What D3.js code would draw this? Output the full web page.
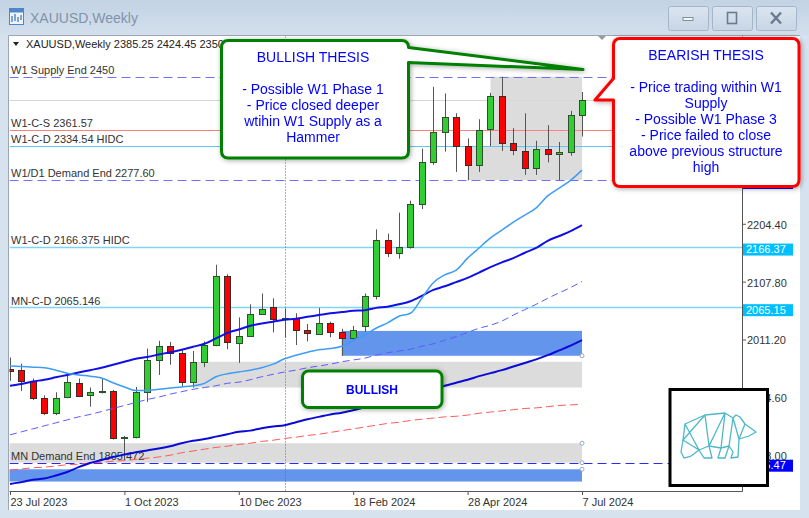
<!DOCTYPE html>
<html>
<head>
<meta charset="utf-8">
<script src="https://cdn.jsdelivr.net/npm/d3@7/dist/d3.min.js"></script>
<style>
html,body{margin:0;padding:0;background:#d6e2ee;overflow:hidden}
svg{display:block}
text{font-family:"Liberation Sans",Arial,sans-serif}
</style>
</head>
<body>
<svg id="chart" width="809" height="518"></svg>
<script>
// ---------------- DATA ----------------
const weeks = ["2023-07-23","2023-07-30","2023-08-06","2023-08-13","2023-08-20","2023-08-27","2023-09-03","2023-09-10","2023-09-17","2023-09-24",
"2023-10-01","2023-10-08","2023-10-15","2023-10-22","2023-10-29","2023-11-05","2023-11-12","2023-11-19","2023-11-26","2023-12-03",
"2023-12-10","2023-12-17","2023-12-24","2023-12-31","2024-01-07","2024-01-14","2024-01-21","2024-01-28","2024-02-04","2024-02-11",
"2024-02-18","2024-02-25","2024-03-03","2024-03-10","2024-03-17","2024-03-24","2024-03-31","2024-04-07","2024-04-14","2024-04-21",
"2024-04-28","2024-05-05","2024-05-12","2024-05-19","2024-05-26","2024-06-02","2024-06-09","2024-06-16","2024-06-23","2024-06-30","2024-07-07"];
const openP  = [1962,1960,1942,1914,1889,1915,1939,1918,1924,1925, 1847,1848,1924,1977,2001,1988,1940,1974,2002,2118, 2006,2017,2054,2066,2046,2047,2027,2021,2038,2024, 2013,2034,2084,2177,2155,2166,2237,2308,2357,2383, 2334,2303,2362,2418,2340,2326,2297,2329,2321,2325,2385.25];
const highP  = [1981,1971,1946,1918,1923,1952,1946,1931,1946,1927, 1850,1932,1996,2009,2007,1994,1992,2008,2136,2120, 2048,2070,2088,2080,2063,2055,2037,2064,2041,2029, 2034,2088,2195,2188,2223,2243,2330,2433,2422,2389, 2347,2379,2423,2450,2364,2389,2343,2369,2341,2393,2424.45];
const lowP   = [1942,1925,1910,1885,1885,1913,1915,1899,1921,1844, 1810,1846,1907,1952,1969,1932,1931,1965,2000,1995, 1972,2016,2053,2023,2014,2002,2008,2019,2015,1984, 2010,2024,2078,2149,2146,2163,2229,2303,2325,2291, 2277,2291,2334,2326,2319,2286,2286,2307,2277,2318,2350];
const closeP = [1959,1942,1913,1889,1914,1940,1917,1923,1925,1846, 1848,1923,1977,2000,1988,1940,1974,2002,2117,2007, 2017,2053,2062,2045,2047,2027,2022,2038,2024,2013, 2027,2084,2177,2155,2166,2237,2308,2357,2383,2334, 2303,2361,2418,2340,2328,2297,2329,2321,2325,2386,2411];

// moving averages (one value per weekly bar)
const maFast = [1967,1966,1965,1964,1960,1955,1952,1950,1947,1939, 1932,1926,1926,1928,1930,1932,1934,1938,1949,1954, 1957,1960,1964,1970,1979,1985,1990,1994,1996,2000, 2010,2019,2030,2039,2050,2055,2080,2106,2119,2127, 2147,2164,2181,2194,2207,2219,2231,2251,2264,2277,2294];
const maMid  = [1934,1937,1941,1944,1948,1952,1956,1960,1964,1969, 1974,1979,1982,1986,1990,1994,1999,2004,2013,2022, 2028,2034,2038,2041,2044,2046,2049,2052,2055,2057, 2059,2060,2064,2066,2070,2075,2084,2094,2100,2107, 2114,2123,2132,2140,2147,2156,2164,2176,2184,2192,2202];
const maMidDash = [1852,1857,1862,1867,1872,1877,1882,1886,1891,1896, 1901,1906,1911,1915,1920,1924,1928,1931,1934,1938, 1940,1944,1949,1953,1957,1960,1964,1967,1970,1974, 1977,1980,1985,1989,1992,1995,2000,2004,2010,2016, 2023,2030,2035,2042,2052,2061,2070,2080,2089,2098,2108];
const maSlow = [1770,1773,1777,1779,1784,1790,1798,1805,1810,1815, 1819,1823,1826,1829,1833,1838,1842,1845,1849,1853, 1857,1859,1863,1866,1868,1873,1878,1882,1886,1889, 1893,1898,1903,1907,1912,1917,1922,1928,1934,1939, 1944,1950,1955,1960,1966,1972,1978,1985,1993,2001,2010];
const maRedDash = [1793,1795,1797,1798,1800,1802,1803,1805,1806,1808, 1809,1811,1813,1815,1818,1822,1825,1828,1831,1833, 1836,1838,1841,1843,1846,1848,1851,1853,1856,1859, 1862,1865,1868,1871,1873,1876,1878,1880,1882,1883, 1885,1888,1890,1892,1894,1896,1897,1899,1901,1902,1903];

// horizontal levels
const levelNames  = ["W1 Supply End 2450","W1-C-S 2361.57","W1-C-D 2334.54 HIDC","W1/D1 Demand End 2277.60","W1-C-D 2166.375 HIDC","MN-C-D 2065.146","MN Demand End 1805.472"];
const levelValues = [2450, 2361.57, 2334.54, 2277.60, 2166.375, 2065.146, 1805.472];
const levelTags   = ["","","","2277.60","2166.37","2065.15","1805.47"];
const bidPrice = 2411;
const separatorWeek = "2024-01-07";

// zones (rectangles)
const zoneStart  = ["2024-05-12","2024-04-28","2023-11-12","2024-02-11","2023-01-01","2023-01-01"];
const zoneEnd    = ["2024-07-07","2024-07-07","2024-07-07","2024-07-07","2024-07-07","2024-07-07"];
const zoneTop    = [2450, 2334.54, 1974, 2025.5, 1838, 1794.5];
const zoneBottom = [2334.54, 2277.6, 1931, 1984, 1805.5, 1774];
const zoneKind   = ["gray","gray","gray","blue","gray","blue"];

// axes (ticks above 2204.40 are hidden behind the bearish callout)
const priceTicks = [1818.00,1914.60,2011.20,2107.80,2204.40];
const timeTicks = ["2023-07-23","2023-10-01","2023-12-10","2024-02-18","2024-04-28","2024-07-07"];
const timeTickLabels = ["23 Jul 2023","1 Oct 2023","10 Dec 2023","18 Feb 2024","28 Apr 2024","7 Jul 2024"];

// texts
const windowTitle = "XAUUSD,Weekly";
const headerText = "XAUUSD,Weekly  2385.25 2424.45 2350.10 2411.05";
const bullishThesis = ["BULLISH THESIS","","- Possible W1 Phase 1","- Price closed deeper","wtihin W1 Supply as a","Hammer"];
const bearishThesis = ["BEARISH THESIS","","- Price trading within W1","Supply","- Possible W1 Phase 3","- Price failed to close","above previous structure","high"];
const bullishTag = "BULLISH";

// ---------------- DRAWING ----------------
const svg = d3.select("#chart");
const parse = d3.utcParse("%Y-%m-%d");
const dates = weeks.map(parse);
const x = d3.scaleUtc().domain([parse("2023-07-23"), parse("2024-07-07")]).range([10, 582]);
const y = d3.scaleLinear().domain([1758.2, 2516.3]).range([491, 37]);
const P = {l: 9.5, r: 742, t: 36.5, b: 491};

const defs = svg.append("defs");
const tg = defs.append("linearGradient").attr("id","tbar").attr("x1",0).attr("y1",0).attr("x2",0).attr("y2",1);
tg.append("stop").attr("offset","0%").attr("stop-color","#c3d3e4");
tg.append("stop").attr("offset","100%").attr("stop-color","#d3dfec");
const bg = defs.append("linearGradient").attr("id","btn").attr("x1",0).attr("y1",0).attr("x2",0).attr("y2",1);
bg.append("stop").attr("offset","0%").attr("stop-color","#dbe5f0");
bg.append("stop").attr("offset","100%").attr("stop-color","#c7d5e4");
const sh = defs.append("filter").attr("id","sh").attr("x","-20%").attr("y","-20%").attr("width","140%").attr("height","140%");
sh.append("feDropShadow").attr("dx",1).attr("dy",1).attr("stdDeviation",2.5).attr("flood-color","#000").attr("flood-opacity",0.35);
defs.append("clipPath").attr("id","plotclip").append("rect").attr("x",P.l).attr("y",P.t).attr("width",P.r-P.l).attr("height",P.b-P.t);

// window chrome
svg.append("rect").attr("width",809).attr("height",518).attr("fill","#d6e2ee");
svg.append("rect").attr("width",809).attr("height",35).attr("fill","url(#tbar)");
const ic = svg.append("g");
ic.append("rect").attr("x",9.5).attr("y",8.5).attr("width",14).attr("height",16).attr("fill","#eef4fb").attr("stroke","#4f86c6");
ic.append("rect").attr("x",9.5).attr("y",8.5).attr("width",14).attr("height",4).attr("fill","#4f86c6");
ic.append("path").attr("d","M12,22 L12,16 M15,21 L15,14 M18,22 L18,17 M21,20 L21,15").attr("stroke","#3a6fb0").attr("stroke-width",1.2);
svg.append("text").attr("x",30).attr("y",23).attr("font-size",14).attr("fill","#8193aa").text(windowTitle);
[[668,"min"],[712,"max"],[756,"close"]].forEach(([bx,k])=>{
  svg.append("rect").attr("x",bx+0.5).attr("y",6.5).attr("width",40).attr("height",24).attr("rx",2).attr("fill","url(#btn)").attr("stroke","#a6b6c8");
  const cx = bx+20, cy = 18.5;
  if(k==="min") svg.append("rect").attr("x",cx-5).attr("y",cy-1).attr("width",10).attr("height",3).attr("fill","#f4f7fa").attr("stroke","#6b7a8c").attr("stroke-width",0.8);
  if(k==="max") svg.append("rect").attr("x",cx-4.5).attr("y",cy-6).attr("width",9).attr("height",11).attr("fill","none").attr("stroke","#6b7a8c").attr("stroke-width",1.6);
  if(k==="close") svg.append("path").attr("d",`M${cx-5},${cy-6}L${cx+5},${cy+5}M${cx+5},${cy-6}L${cx-5},${cy+5}`).attr("stroke","#6b7a8c").attr("stroke-width",2.4);
});
svg.append("rect").attr("x",9).attr("y",36).attr("width",791).attr("height",474).attr("fill","#fff");
svg.append("path").attr("d","M8.5,510 L8.5,35.5 L800,35.5").attr("fill","none").attr("stroke","#9aa6b2");

const plot = svg.append("g").attr("clip-path","url(#plotclip)");

// zones
const zoneFill = {gray:"#dcdcdc", blue:"#6495ed"};
plot.selectAll("rect.zone").data(zoneStart.map((s,i)=>i)).join("rect")
  .attr("x",i=>x(parse(zoneStart[i]))).attr("width",i=>x(parse(zoneEnd[i]))-x(parse(zoneStart[i])))
  .attr("y",i=>y(zoneTop[i])).attr("height",i=>y(zoneBottom[i])-y(zoneTop[i]))
  .attr("fill",i=>zoneFill[zoneKind[i]]);

// levels
const levelStyle = [
  {c:"#7070ff",d:"9,5"},{c:"#ff8080",d:null},{c:"#5cc6f0",d:null},{c:"#7070ff",d:"9,5"},
  {c:"#80d4f6",d:null,w:1.5},{c:"#80d4f6",d:null,w:1.5},{c:"#2a2aff",d:"9,5"}];
levelValues.forEach((v,i)=>{
  const yy = Math.round(y(v))+0.5;
  plot.append("line").attr("x1",P.l).attr("x2",P.r).attr("y1",yy).attr("y2",yy)
    .attr("stroke",levelStyle[i].c).attr("stroke-width",levelStyle[i].w||1).attr("stroke-dasharray",levelStyle[i].d);
});
{ const yy = Math.round(y(bidPrice))+0.5;
  plot.append("line").attr("x1",P.l).attr("x2",P.r).attr("y1",yy).attr("y2",yy).attr("stroke","#d6d6d6"); }
{ const sx = Math.round(x(parse(separatorWeek)))+0.5;
  plot.append("line").attr("x1",sx).attr("x2",sx).attr("y1",P.t).attr("y2",P.b).attr("stroke","#666").attr("stroke-dasharray","1,2"); }

levelValues.forEach((v,i)=>{
  plot.append("text").attr("x",11).attr("y",y(v)-2.5).attr("font-size",11).attr("fill","#333").text(levelNames[i]);
});

// candles
const bars = dates.map((d,i)=>({d,o:openP[i],h:highP[i],l:lowP[i],c:closeP[i]}));
const cg = plot.append("g");
bars.forEach(b=>{
  const cx = Math.round(x(b.d));
  cg.append("line").attr("x1",cx+0.5).attr("x2",cx+0.5).attr("y1",y(b.h)).attr("y2",y(b.l)).attr("stroke","#555");
  const top = Math.round(y(Math.max(b.o,b.c)))+0.5;
  const bot = Math.round(y(Math.min(b.o,b.c)))+0.5;
  const up = b.c >= b.o;
  cg.append("rect").attr("x",cx-2.5).attr("width",6).attr("y",top).attr("height",Math.max(bot-top,1))
    .attr("fill",up?"#32cd32":"#ff0000").attr("stroke",up?"#2f4f2f":"#3a2a2a");
});

// moving averages
const mkLine = arr => d3.line().x((d,i)=>x(dates[i])).y(d=>y(d)).curve(d3.curveMonotoneX)(arr);
plot.append("path").attr("d",mkLine(maRedDash)).attr("fill","none").attr("stroke","#ff5a5a").attr("stroke-dasharray","8,4");
plot.append("path").attr("d",mkLine(maMidDash)).attr("fill","none").attr("stroke","#5c5cff").attr("stroke-dasharray","7,4");
plot.append("path").attr("d",mkLine(maSlow)).attr("fill","none").attr("stroke","#0a0ad8").attr("stroke-width",2);
plot.append("path").attr("d",mkLine(maMid)).attr("fill","none").attr("stroke","#1010e6").attr("stroke-width",2);
plot.append("path").attr("d",mkLine(maFast)).attr("fill","none").attr("stroke","#3d9cf5").attr("stroke-width",1.5);

[[zoneEnd[3],zoneBottom[3]],[zoneEnd[4],zoneTop[4]],[zoneEnd[4],zoneBottom[4]],[zoneEnd[5],zoneTop[5]]].forEach(([d,v])=>{
  plot.append("circle").attr("cx",x(parse(d))).attr("cy",y(v)).attr("r",2).attr("fill","#fff").attr("stroke","#9aa8c0");
});

// axes
const ax = svg.append("g").attr("transform",`translate(${P.r},0)`)
  .call(d3.axisRight(y).tickValues(priceTicks).tickSize(4).tickPadding(1).tickFormat(d3.format(".2f")));
ax.select(".domain").remove();
ax.selectAll(".tick line").attr("stroke","#555");
ax.selectAll(".tick text").attr("font-size",11).attr("fill","#333").attr("font-family","Liberation Sans, Arial, sans-serif").attr("dy","0.4em");
svg.append("line").attr("x1",P.r+0.5).attr("x2",P.r+0.5).attr("y1",P.t).attr("y2",P.b+0.5).attr("stroke","#555");
svg.append("line").attr("x1",P.l).attr("x2",P.r+0.5).attr("y1",P.b+0.5).attr("y2",P.b+0.5).attr("stroke","#555");
const bx = svg.append("g").attr("transform",`translate(0,${P.b})`)
  .call(d3.axisBottom(x).tickValues(timeTicks.map(parse)).tickSize(4).tickPadding(3).tickFormat((d,i)=>timeTickLabels[i]));
bx.select(".domain").remove();
bx.selectAll(".tick line").attr("stroke","#555");
bx.selectAll(".tick text").attr("font-size",11).attr("fill","#333").attr("text-anchor","start").attr("font-family","Liberation Sans, Arial, sans-serif");

// price tags for levels
const tagFill = ["#0000ff","#ff6060","#00bfff","#0000ff","#00bfff","#00bfff","#0000ff"];
levelValues.forEach((v,i)=>{
  if(!levelTags[i]) return;
  const cy = y(v)+2.5;
  svg.append("rect").attr("x",743).attr("y",cy-5.5).attr("width",50).attr("height",12).attr("fill",tagFill[i]);
  svg.append("text").attr("x",746).attr("y",cy+4).attr("font-size",11).attr("fill","#fff").text(levelTags[i]);
});

// header
svg.append("path").attr("d","M13,42 L19,42 L16,46 Z").attr("fill","#222");
svg.append("text").attr("x",26).attr("y",48).attr("font-size",11).attr("fill","#222").text(headerText);
svg.append("path").attr("d","M598,36 L606,36 L602,40 Z").attr("fill","#999");

// callouts
const g1 = svg.append("g").attr("filter","url(#sh)");
g1.append("path").attr("d","M228.5,40.5 L401.5,40.5 Q408.5,40.5 408.5,47.5 L583,69.5 L408.5,62.5 L408.5,151 Q408.5,158 401.5,158 L228.5,158 Q221.5,158 221.5,151 L221.5,47.5 Q221.5,40.5 228.5,40.5 Z")
  .attr("fill","#fff").attr("stroke","#008000").attr("stroke-width",3).attr("stroke-linejoin","round");
g1.selectAll("text").data(bullishThesis).join("text").attr("x",313).attr("y",(d,i)=>62+i*16).attr("text-anchor","middle")
  .attr("font-size",14).attr("fill","#0000ff").text(d=>d);

const g2 = svg.append("g").attr("filter","url(#sh)");
g2.append("path").attr("d","M620.5,38.5 L792,38.5 Q799,38.5 799,45.5 L799,179.5 Q799,186.5 792,186.5 L620.5,186.5 Q613.5,186.5 613.5,179.5 L613.5,100 L595,100 L613.5,78.5 L613.5,45.5 Q613.5,38.5 620.5,38.5 Z")
  .attr("fill","#fff").attr("stroke","#ff0000").attr("stroke-width",3).attr("stroke-linejoin","round");
g2.selectAll("text").data(bearishThesis).join("text").attr("x",706).attr("y",(d,i)=>60+i*16).attr("text-anchor","middle")
  .attr("font-size",14).attr("fill","#0000ff").text(d=>d);

const g3 = svg.append("g").attr("filter","url(#sh)");
g3.append("rect").attr("x",302.5).attr("y",371).attr("width",139.5).attr("height",36.5).attr("rx",6).attr("fill","#fff").attr("stroke","#008000").attr("stroke-width",3);
g3.append("text").attr("x",372).attr("y",393.5).attr("text-anchor","middle").attr("font-size",12).attr("font-weight","bold")
  .attr("font-family","DejaVu Sans, sans-serif").attr("fill","#0000ff").text(bullishTag);

// bear logo box
svg.append("rect").attr("x",670).attr("y",389.5).attr("width",97.5).attr("height",96).attr("fill","#fff").attr("stroke","#000").attr("stroke-width",3);
const bear = svg.append("g").attr("transform","translate(681,412)").attr("fill","none").attr("stroke","#4db8c6").attr("stroke-width",1.3).attr("stroke-linejoin","round");
bear.append("path").attr("d","M4,12 L24,3 L44,1 L52,6 L55,3 L59,5 L64,12 L75,20 L68,24 L58,27 L57,45 L50,46 L52,40 L48,34 L44,46 L37,46 L40,36 L28,34 L31,46 L23,46 L18,38 L10,44 L3,46 L0,40 L2,28 Z");
bear.append("path").attr("d","M24,3 L28,34 M44,1 L40,36 M24,3 L2,28 M44,1 L28,34 M52,6 L48,34 M58,27 L64,12 M52,6 L58,27 M2,28 L18,38 L28,34 M4,12 L18,38 M40,36 L48,34");
</script>
</body>
</html>
